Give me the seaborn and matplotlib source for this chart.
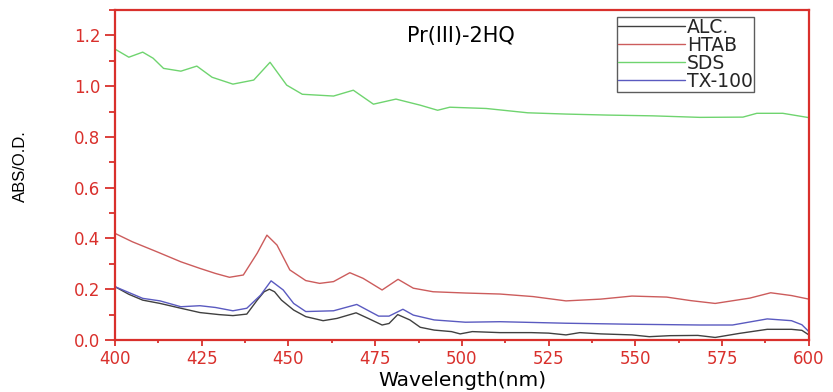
import numpy as np
import pandas as pd
import matplotlib
matplotlib.use("Agg")
import matplotlib.pyplot as plt
import seaborn as sns
from matplotlib.ticker import MultipleLocator
from matplotlib.lines import Line2D

# ---- data ----
alc_x = [400, 404, 408, 413, 419, 424.5, 430, 434, 438, 441, 443, 444.5, 446, 448, 451.5, 455, 460, 464, 469.5, 473, 477, 479,
         481.5, 485, 488, 492, 497, 499.5, 503, 511, 520, 525, 530, 534, 540, 549, 554, 560, 568, 573, 580, 588, 595, 598, 600]
alc_y = [0.21, 0.18, 0.157, 0.144, 0.125, 0.108, 0.1, 0.096, 0.102, 0.157, 0.19, 0.2, 0.19, 0.157, 0.118, 0.092, 0.076, 0.085, 0.107, 0.085, 0.059, 0.065,
         0.1, 0.079, 0.05, 0.039, 0.033, 0.024, 0.033, 0.029, 0.029, 0.027, 0.02, 0.029, 0.024, 0.02, 0.013, 0.017, 0.018, 0.01, 0.026, 0.042, 0.042, 0.038, 0.02]

htab_x = [400, 405, 412, 419, 424.5, 429, 433, 437, 441, 443.8, 446.7, 450.4, 455, 459, 463, 467.7, 471.5, 477, 481.6, 486,
          491.7, 501, 511, 520.5, 530, 540, 549, 559, 566, 573, 583, 589, 595, 600]
htab_y = [0.42, 0.387, 0.348, 0.308, 0.282, 0.262, 0.247, 0.256, 0.342, 0.413, 0.374, 0.276, 0.234, 0.223, 0.23, 0.265, 0.243, 0.197, 0.239, 0.204,
          0.19, 0.185, 0.181, 0.171, 0.154, 0.161, 0.173, 0.169, 0.155, 0.144, 0.165, 0.186, 0.175, 0.161]

sds_x = [400, 404, 408, 411, 414, 419, 423.6, 428, 434, 440, 444.7, 449.5, 454, 463, 468.7, 474.5, 481, 488, 493, 496.5,
         507, 519, 530, 542, 555, 568.6, 581, 585, 592.5, 600]
sds_y = [1.146, 1.114, 1.134, 1.11, 1.07, 1.059, 1.079, 1.035, 1.008, 1.024, 1.094, 1.004, 0.968, 0.961, 0.984, 0.929, 0.949, 0.925, 0.905, 0.917,
         0.912, 0.895, 0.89, 0.886, 0.883, 0.877, 0.878, 0.893, 0.893, 0.876]

tx_x = [400, 408, 413, 419, 424.5, 429, 434, 438, 442, 445, 448.5, 451.5, 455, 463, 469.7, 476, 479, 483, 486, 492,
        501, 511, 530, 549, 568.6, 578, 588, 595, 598, 600]
tx_y = [0.21, 0.164, 0.154, 0.131, 0.135, 0.128, 0.115, 0.125, 0.177, 0.233, 0.197, 0.144, 0.112, 0.115, 0.14, 0.094, 0.094, 0.121, 0.098, 0.079,
        0.07, 0.072, 0.066, 0.062, 0.059, 0.059, 0.083, 0.076, 0.06, 0.033]

series_names = ["ALC.", "HTAB", "SDS", "TX-100"]
series_colors = ["#404040", "#cc5c5c", "#6fd46f", "#5a5ac0"]
x_ticks = [400, 425, 450, 475, 500, 525, 550, 575, 600]
y_ticks = [0.0, 0.2, 0.4, 0.6, 0.8, 1.0, 1.2]

frames = []
for name, xs, ys in zip(series_names, [alc_x, htab_x, sds_x, tx_x], [alc_y, htab_y, sds_y, tx_y]):
    frames.append(pd.DataFrame({"Wavelength": xs, "ABS": ys, "series": name}))
df = pd.concat(frames, ignore_index=True)

sns.set_style("white")
plt.rcParams["font.family"] = ["DejaVu Sans"]

fig = plt.figure(figsize=(8.33, 3.92), dpi=100)
ax = fig.add_axes([0.138, 0.1327, 0.833, 0.8418])

sns.lineplot(data=df, x="Wavelength", y="ABS", hue="series", hue_order=series_names,
             palette=dict(zip(series_names, series_colors)), estimator=None, sort=True,
             linewidth=1.0, ax=ax, legend=False)

red = "#d9302c"
ax.set_xlim(400, 600)
ax.set_ylim(0, 1.3)
ax.set_xticks(x_ticks)
ax.set_yticks(y_ticks)
ax.set_yticklabels([f"{v:.1f}" for v in y_ticks])
ax.xaxis.set_minor_locator(MultipleLocator(12.5))
ax.yaxis.set_minor_locator(MultipleLocator(0.1))
ax.tick_params(axis="y", which="major", direction="out", length=7.5, width=1.3, color=red,
               labelcolor=red, labelsize=12, left=True, pad=3)
ax.tick_params(axis="y", which="minor", direction="out", length=4, width=1.3, color=red, left=True)
ax.tick_params(axis="x", which="major", direction="out", length=4, width=1.3, color=red,
               labelcolor=red, labelsize=12, bottom=True, pad=3)
ax.tick_params(axis="x", which="minor", direction="out", length=2.5, width=1.3, color=red, bottom=True)
for s in ax.spines.values():
    s.set_color(red)
    s.set_linewidth(1.6)
    s.set_visible(True)

ax.set_xlabel("Wavelength(nm)", fontsize=14.5, color="black")
ax.xaxis.set_label_coords(0.5, -0.093)
ax.set_ylabel("ABS/O.D.", fontsize=12, color="black",
              family=["Liberation Sans Narrow", "Liberation Sans", "DejaVu Sans"])
ax.yaxis.set_label_coords(-0.125, 0.527)

ax.text(0.421, 0.921, "Pr(III)-2HQ", transform=ax.transAxes, fontsize=15, color="black",
        ha="left", va="center")

handles = [Line2D([], [], color=c, linewidth=1.0) for c in series_colors]
leg = ax.legend(handles, series_names, loc="upper left", bbox_to_anchor=(0.723, 0.98),
                fontsize=13.5, frameon=True, fancybox=False, borderpad=0.05, handlelength=3.6,
                handletextpad=0.1, labelspacing=-0.05, borderaxespad=0)
leg.get_frame().set_edgecolor("#333333")
leg.get_frame().set_linewidth(1.0)

fig.savefig("out.png", dpi=100)
